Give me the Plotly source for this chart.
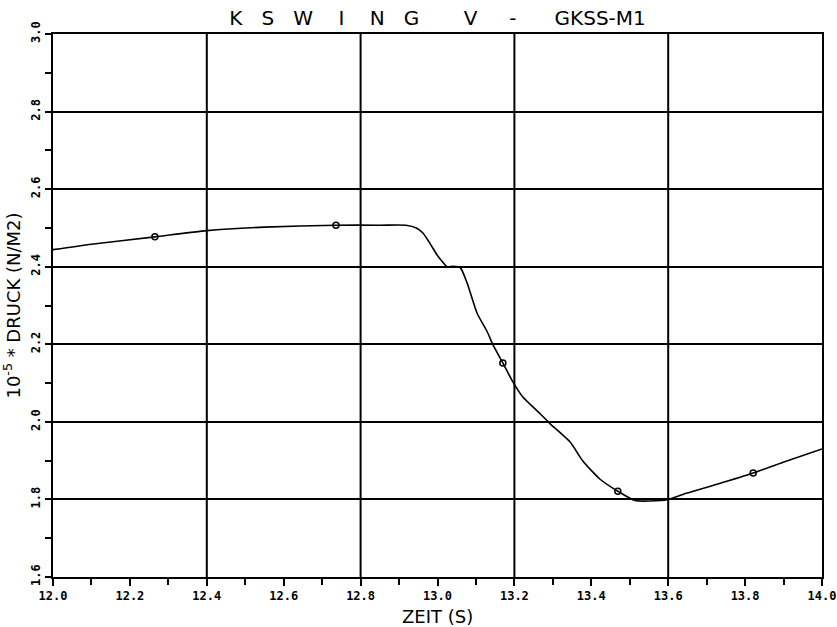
import plotly.graph_objects as go

# ---- data ----
time = [12.00, 12.10, 12.265, 12.40, 12.55, 12.736, 12.85, 12.918, 12.945, 12.962,
        12.980, 12.999, 13.015, 13.025, 13.040, 13.059, 13.077, 13.103, 13.129, 13.144,
        13.170, 13.196, 13.222, 13.267, 13.293, 13.345, 13.378, 13.423, 13.469, 13.514,
        13.553, 13.597, 13.638, 13.727, 13.821, 13.899, 14.00]
pressure = [2.444, 2.458, 2.477, 2.493, 2.502, 2.507, 2.507, 2.507, 2.500, 2.487,
            2.461, 2.430, 2.410, 2.400, 2.401, 2.398, 2.358, 2.280, 2.233, 2.199,
            2.152, 2.103, 2.064, 2.021, 1.995, 1.948, 1.899, 1.852, 1.821, 1.797,
            1.796, 1.799, 1.813, 1.839, 1.868, 1.896, 1.930]
marker_time = [12.265, 12.736, 13.170, 13.469, 13.821]
marker_pressure = [2.477, 2.507, 2.152, 1.821, 1.868]

x_ticks = [12.0, 12.2, 12.4, 12.6, 12.8, 13.0, 13.2, 13.4, 13.6, 13.8, 14.0]
x_grid = [12.4, 12.8, 13.2, 13.6]
y_ticks = [1.6, 1.8, 2.0, 2.2, 2.4, 2.6, 2.8, 3.0]

S3 = "\u00a0" * 3
title_text = ("K" + S3 + "S" + S3 + "W" + S3 + "\u00a0I\u00a0" + S3 + "N" + S3 + "G"
              + "\u00a0" * 7 + "V" + "\u00a0" * 5 + "-" + "\u00a0" * 6 + "GKSS-M1")

fig = go.Figure()
fig.add_trace(go.Scatter(x=time, y=pressure, mode="lines", line_shape="spline",
                         line=dict(color="black", width=1.6, smoothing=0.6),
                         showlegend=False))
fig.add_trace(go.Scatter(x=marker_time, y=marker_pressure, mode="markers",
                         marker=dict(symbol="circle-open", size=6, color="black",
                                     line=dict(width=1.5)), showlegend=False))

for gx in x_grid:
    fig.add_vline(x=gx, line=dict(color="black", width=2), layer="below")

tickfont = dict(family="DejaVu Sans Mono", size=12, color="black", weight="bold")

fig.add_annotation(text="ZEIT (S)", xref="paper", yref="paper", x=0.5, y=-0.072,
                   xanchor="center", yanchor="middle", showarrow=False,
                   font=dict(family="DejaVu Sans", size=18, color="black"))

fig.update_layout(
    width=837, height=627,
    margin=dict(l=53, r=15, t=34, b=50),
    paper_bgcolor="white", plot_bgcolor="white",
    title=dict(text=title_text, x=0.5, xref="paper", xanchor="center",
               y=1 - 18 / 627, yref="container", yanchor="middle",
               font=dict(family="DejaVu Sans", size=20, color="black")),
    xaxis=dict(range=[12.0, 14.0], tickvals=x_ticks,
               ticktext=[f"{v:.1f}" for v in x_ticks],
               ticks="outside", ticklen=7, tickwidth=1.5, tickcolor="black",
               minor=dict(dtick=0.1, tick0=12.0, ticks="outside", ticklen=6,
                          tickwidth=1.5, tickcolor="black", showgrid=False),
               showgrid=False, zeroline=False, automargin=False,
               showline=True, linecolor="black", linewidth=2, mirror=True,
               tickfont=tickfont),
    yaxis=dict(range=[1.6, 3.0], tickvals=y_ticks,
               ticktext=[f"{v:.1f}" for v in y_ticks],
               ticks="outside", ticklen=6, tickwidth=1.5, tickcolor="black",
               tickangle=-90, automargin=False,
               minor=dict(dtick=0.1, tick0=1.6, ticks="outside", ticklen=6,
                          tickwidth=1.5, tickcolor="black", showgrid=False),
               showgrid=True, gridcolor="black", gridwidth=2, zeroline=False,
               showline=True, linecolor="black", linewidth=2, mirror=True,
               tickfont=tickfont,
               title=dict(text="10<sup>-5</sup> * DRUCK (N/M2)", standoff=4,
                          font=dict(family="DejaVu Sans", size=18, color="black"))),
)

fig.write_html("out.html")
